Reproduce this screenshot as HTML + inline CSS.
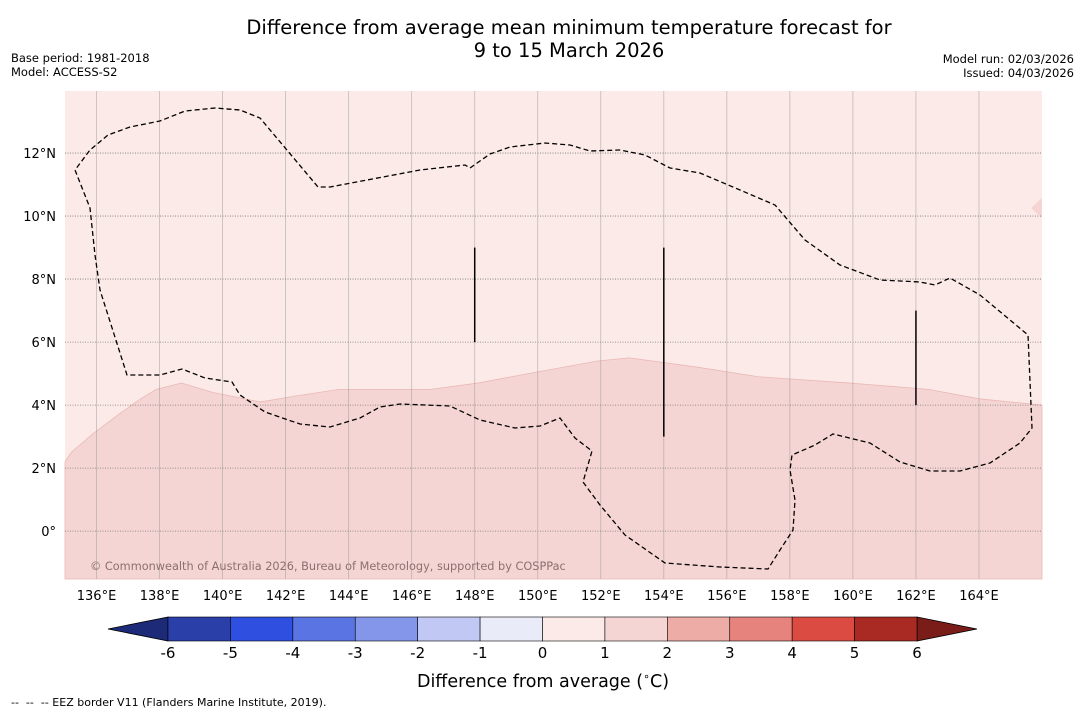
<!DOCTYPE html>
<html><head><meta charset="utf-8"><style>
body{margin:0;background:#fff;width:1085px;height:713px;overflow:hidden;font-family:"DejaVu Sans","Liberation Sans",sans-serif;}
svg text{font-family:"DejaVu Sans","Liberation Sans",sans-serif;}
</style></head><body>
<svg id="c" width="1085" height="713" xmlns="http://www.w3.org/2000/svg">
<text x="569" y="34" text-anchor="middle" font-size="19.5">Difference from average mean minimum temperature forecast for</text>
<text x="569" y="57" text-anchor="middle" font-size="19.5">9 to 15 March 2026</text>
<text x="11" y="62" font-size="11.5">Base period: 1981-2018</text>
<text x="11" y="76" font-size="11.5">Model: ACCESS-S2</text>
<text x="1074" y="63" font-size="11.5" text-anchor="end">Model run: 02/03/2026</text>
<text x="1074" y="77" font-size="11.5" text-anchor="end">Issued: 04/03/2026</text>
<g id="map"></g>
<g id="cbar"></g>
<text x="543" y="687" text-anchor="middle" font-size="17.5">Difference from average (<tspan font-size="11" dy="-7">∘</tspan><tspan dy="7">C)</tspan></text>
<text x="11" y="706" font-size="11" xml:space="preserve">--  --  -- EEZ border V11 (Flanders Marine Institute, 2019).</text>
</svg>
<script>
const lonTicks=[136,138,140,142,144,146,148,150,152,154,156,158,160,162,164];
const latTicks=[0,2,4,6,8,10,12];
const cbarLevels=[-6,-5,-4,-3,-2,-1,0,1,2,3,4,5,6];
const cbarColors=['#2a3fa8','#2e4fe0','#5a74e3','#8396ea','#c0c8f3','#e9ebf9','#fbeae8','#f5d5d3','#edaca6','#e5837c','#dc4b41','#a82a23'];
const cbarLow='#1c2a78',cbarHigh='#7a1c18';
// anomaly boundary (1°C contour), lon/lat
const contourLon=[135,135.2,135.9,136.7,137.4,137.9,138.7,139.7,141.2,142.4,143.7,146.6,148.1,149.7,151.9,152.9,155.1,157.0,159.9,162.4,164.0,166.0];
const contourLat=[2.2,2.5,3.1,3.7,4.2,4.5,4.7,4.4,4.1,4.3,4.5,4.5,4.7,5.0,5.4,5.5,5.2,4.9,4.7,4.5,4.2,4.0];
const NS='http://www.w3.org/2000/svg';
const X0=65,X1=1042,Y0=91,Y1=579,lonMin=135,lonMax=166,latMin=-1.52,latMax=13.97;
const px=l=>X0+(l-lonMin)/(lonMax-lonMin)*(X1-X0);
const py=l=>Y1-(l-latMin)/(latMax-latMin)*(Y1-Y0);
function mk(t,a,p){const e=document.createElementNS(NS,t);for(const k in a)e.setAttribute(k,a[k]);(p||map).appendChild(e);return e;}
const map=document.getElementById('map');
let r=mk('rect',{x:X0,y:Y0,width:X1-X0,height:Y1-Y0,fill:'#fbeae8'});


let d='M'+px(contourLon[0])+','+py(contourLat[0]);
for(let i=1;i<contourLon.length;i++)d+=' L'+px(contourLon[i])+','+py(contourLat[i]);
d+=` L${X1},${Y1} L${X0},${Y1} Z`;
let poly=mk('path',{d:d,fill:'#f5d5d3',stroke:'#e9b8b4','stroke-width':0.8});


let sm=mk('path',{d:'M1042,198 L1031,208 L1042,218 Z',fill:'#f5d5d3'});


lonTicks.forEach(l=>{const x=px(l);
 let g=mk('line',{x1:x,y1:Y0,x2:x,y2:Y1,stroke:'#999','stroke-width':0.8,'stroke-opacity':0.6});
 
 
 let t=mk('text',{x:x,y:600,'text-anchor':'middle','font-size':13},document.getElementById('c'));t.textContent=l+'°E';
 
 
});
latTicks.forEach(l=>{const y=py(l);
 let g=mk('line',{x1:X0,y1:y,x2:X1,y2:y,stroke:'#777','stroke-width':0.8,'stroke-dasharray':'1,1.5'});
 
 
 let t=mk('text',{x:56,y:y+5,'text-anchor':'end','font-size':13},document.getElementById('c'));t.textContent=l===0?'0°':l+'°N';
 
 
});
const eez=[[75,170],[90,208],[95,255],[100,290],[127,375],[160,375],[182,369],[205,378],[232,382],[240,395],[265,412],[300,424],[330,427],[360,418],[380,407],[400,404],[450,406],[480,420],[515,428],[540,426],[560,418],[575,438],[592,451],[583,482],[600,505],[625,535],[665,563],[720,567],[768,569],[780,550],[793,530],[795,500],[790,470],[792,455],[815,445],[833,434],[870,443],[900,462],[930,471],[960,471],[990,463],[1020,443],[1032,428],[1028,335],[980,295],[950,278],[935,285],[920,282],[880,280],[840,265],[805,240],[775,205],[740,190],[700,173],[670,168],[645,155],[620,150],[590,151],[570,145],[545,143],[510,147],[490,154],[470,168],[465,165],[420,170],[330,187],[318,187],[260,118],[240,110],[215,108],[185,111],[160,121],[130,127],[108,135],[90,150],[75,170]];
let e=mk('path',{d:'M'+eez.map(p=>p.join(',')).join(' L'),fill:'none',stroke:'#000','stroke-width':1.3,'stroke-dasharray':'5,3'});


[[148,6,9],[154,3,9],[162,4,7]].forEach(v=>{let l=mk('line',{x1:px(v[0]),x2:px(v[0]),y1:py(v[2]),y2:py(v[1]),stroke:'#000','stroke-width':1.5});
 
 });
let cr=mk('text',{x:90,y:570,'font-size':11.3,fill:'#8a7070'});cr.textContent='© Commonwealth of Australia 2026, Bureau of Meteorology, supported by COSPPac';


// colorbar
const cb=document.getElementById('cbar');const CX0=168,CX1=917,CY=617,CH=24;const w=(CX1-CX0)/cbarColors.length;
let lt=mk('path',{d:`M${CX0},${CY} L108,${CY+CH/2} L${CX0},${CY+CH} Z`,fill:cbarLow,stroke:'#000','stroke-width':0.8},cb);


let rt=mk('path',{d:`M${CX1},${CY} L977,${CY+CH/2} L${CX1},${CY+CH} Z`,fill:cbarHigh,stroke:'#000','stroke-width':0.8},cb);


cbarColors.forEach((c,i)=>{let b=mk('rect',{x:CX0+i*w,y:CY,width:w,height:CH,fill:c,stroke:'#000','stroke-width':0.6},cb);
 
 });
cbarLevels.forEach((v,i)=>{let t=mk('text',{x:CX0+i*w,y:658,'text-anchor':'middle','font-size':15},cb);t.textContent=v;
 
 });
</script>
</body></html>
